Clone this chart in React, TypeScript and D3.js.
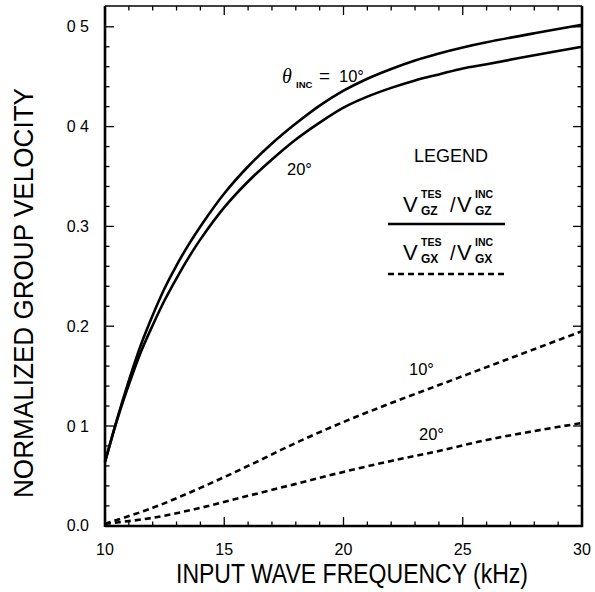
import React from "react";
import * as d3 from "d3";

const freqSolid = [10, 10.5, 11, 11.5, 12, 12.5, 13, 13.5, 14, 15, 16, 17, 18, 19, 20, 21, 22, 23, 24, 25, 26, 28, 30];
const vgz10 = [0.064, 0.1065, 0.1455, 0.181, 0.211, 0.238, 0.261, 0.2815, 0.300, 0.333, 0.360, 0.383, 0.403, 0.421, 0.436, 0.448, 0.4578, 0.4663, 0.4733, 0.4793, 0.4845, 0.4935, 0.502];
const vgz20 = [0.064, 0.1055, 0.1415, 0.174, 0.201, 0.226, 0.248, 0.2685, 0.287, 0.319, 0.345, 0.367, 0.387, 0.404, 0.419, 0.430, 0.4388, 0.4463, 0.4523, 0.4583, 0.4625, 0.4715, 0.480];

const freqDash = [10, 12, 14, 16, 18, 20, 22, 24, 26, 28, 30];
const vgx10 = [0.002, 0.018, 0.038, 0.060, 0.083, 0.104, 0.123, 0.141, 0.159, 0.177, 0.195];
const vgx20 = [0.002, 0.008, 0.018, 0.030, 0.042, 0.054, 0.065, 0.075, 0.086, 0.095, 0.103];

const xTickValues = [10, 15, 20, 25, 30];
const xTickLabels = ["10", "15", "20", "25", "30"];
const yTickValues = [0, 0.1, 0.2, 0.3, 0.4, 0.5];
const yTickLabels = ["0.0", "0 1", "0.2", "0.3", "0 4", "0 5"];

const xTitle = "INPUT WAVE FREQUENCY (kHz)";
const yTitle = "NORMALIZED GROUP VELOCITY";

export default function App() {
  const W = 595, H = 592;
  const L = 105, R = 582, T = 6, B = 526;
  const x = d3.scaleLinear().domain([10, 30]).range([L, R]);
  const y = d3.scaleLinear().domain([0, 0.5]).range([525.8, 26.8]);
  const font = "'Liberation Sans', Arial, Helvetica, sans-serif";

  const line = (xs: number[], ys: number[]) =>
    d3.line<number>().x((_, i) => x(xs[i])).y((d) => y(d)).curve(d3.curveCatmullRom.alpha(0.5))(ys) || "";

  const minorX = d3.range(10, 30.001, 1);
  const minorY = d3.range(0, 0.52, 0.02);

  return (
    <svg width={W} height={H} style={{ position: "absolute", left: 0, top: 0, background: "#fff" }}>
      <rect x={0} y={0} width={W} height={H} fill="#fff" />
      {/* ticks */}
      {minorX.map((f) => {
        const major = Math.abs(f % 5) < 1e-6;
        const len = major ? 9 : 4.5;
        return (
          <g key={"xt" + f} stroke="#000" strokeWidth={1.3}>
            <line x1={x(f)} x2={x(f)} y1={B} y2={B - len} />
            <line x1={x(f)} x2={x(f)} y1={T} y2={T + len} />
          </g>
        );
      })}
      {minorY.map((v, i) => {
        const major = i % 5 === 0;
        const len = major ? 9 : 4.5;
        return (
          <g key={"yt" + i} stroke="#000" strokeWidth={1.3}>
            <line x1={L} x2={L + len} y1={y(v)} y2={y(v)} />
            <line x1={R} x2={R - len} y1={y(v)} y2={y(v)} />
          </g>
        );
      })}
      {/* frame */}
      <line x1={L} x2={R} y1={T} y2={T} stroke="#000" strokeWidth={1.6} />
      <line x1={L} x2={R + 1} y1={B} y2={B} stroke="#000" strokeWidth={2.6} />
      <line x1={L} x2={L} y1={T} y2={B + 1} stroke="#000" strokeWidth={2.6} />
      <line x1={R} x2={R} y1={T} y2={B + 1} stroke="#000" strokeWidth={2.6} />

      {/* tick labels */}
      {xTickValues.map((v, i) => (
        <text key={"xl" + i} x={x(v)} y={555} textAnchor="middle" fontFamily={font} fontSize={16} fill="#000">
          {xTickLabels[i]}
        </text>
      ))}
      {yTickValues.map((v, i) => (
        <text key={"yl" + i} x={89} y={y(v) + 5.5} textAnchor="end" fontFamily={font} fontSize={16} fill="#000">
          {yTickLabels[i]}
        </text>
      ))}

      {/* titles */}
      <text x={176} y={583} fontFamily={font} fontSize={27} textLength={352} lengthAdjust="spacingAndGlyphs" fill="#000">
        {xTitle}
      </text>
      <text
        transform={`translate(33, 498) rotate(-90)`}
        fontFamily={font}
        fontSize={27}
        textLength={410}
        lengthAdjust="spacingAndGlyphs"
        fill="#000"
      >
        {yTitle}
      </text>

      {/* curves */}
      <path d={line(freqSolid, vgz10)} fill="none" stroke="#000" strokeWidth={2.6} />
      <path d={line(freqSolid, vgz20)} fill="none" stroke="#000" strokeWidth={2.6} />
      <path d={line(freqDash, vgx10)} fill="none" stroke="#000" strokeWidth={2.6} strokeDasharray="6,4" />
      <path d={line(freqDash, vgx20)} fill="none" stroke="#000" strokeWidth={2.6} strokeDasharray="6,4" />

      {/* curve labels */}
      <text x={282} y={83} fontFamily="'Liberation Serif', serif" fontStyle="italic" fontSize={20} fill="#000">θ</text>
      <text x={296} y={88} fontFamily={font} fontWeight="bold" fontSize={9.5} fill="#000">INC</text>
      <text x={319} y={82} fontFamily={font} fontSize={19} fill="#000">=</text>
      <text x={339} y={82} fontFamily={font} fontSize={16.5} fill="#000">10°</text>
      <text x={287} y={175} fontFamily={font} fontSize={16.5} fill="#000">20°</text>
      <text x={409} y={375} fontFamily={font} fontSize={16.5} fill="#000">10°</text>
      <text x={419} y={440} fontFamily={font} fontSize={16.5} fill="#000">20°</text>

      {/* legend */}
      <text x={451} y={162} textAnchor="middle" fontFamily={font} fontSize={18} fill="#000">LEGEND</text>
      {[
        { base: 212, sub: "GZ" },
        { base: 260, sub: "GX" },
      ].map((r, i) => (
        <g key={"lg" + i} fontFamily={font} fill="#000">
          <text x={403} y={r.base} fontSize={22}>V</text>
          <text x={421} y={r.base - 14} fontSize={10.5} fontWeight="bold">TES</text>
          <text x={421} y={r.base + 3} fontSize={12} fontWeight="bold">{r.sub}</text>
          <text x={450} y={r.base} fontSize={20}>/</text>
          <text x={457} y={r.base} fontSize={22}>V</text>
          <text x={475} y={r.base - 14} fontSize={10.5} fontWeight="bold">INC</text>
          <text x={475} y={r.base + 3} fontSize={12} fontWeight="bold">{r.sub}</text>
        </g>
      ))}
      <line x1={388} x2={505} y1={224} y2={224} stroke="#000" strokeWidth={2.6} />
      <line x1={388} x2={505} y1={274} y2={274} stroke="#000" strokeWidth={2.4} strokeDasharray="6,4" />
    </svg>
  );
}
